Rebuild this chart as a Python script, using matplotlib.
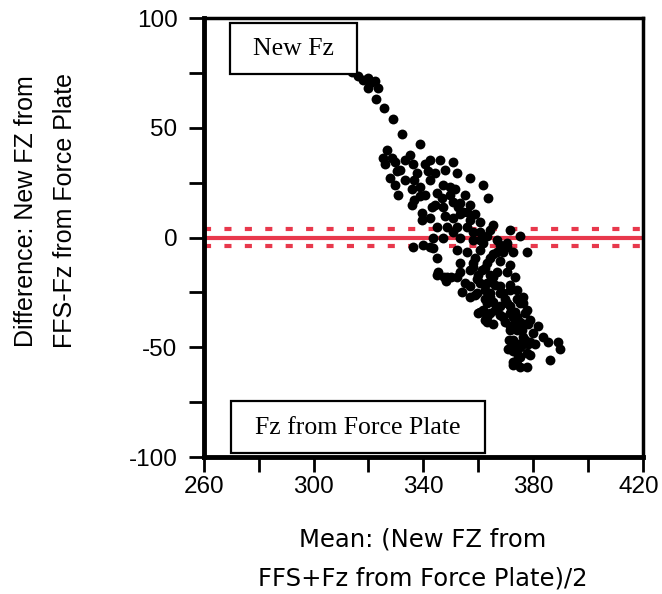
import matplotlib
matplotlib.use("Agg")
import matplotlib.pyplot as plt
import matplotlib.transforms as mtransforms
from matplotlib.patches import Rectangle

mean_vals = [
    313.9, 316.1, 317.9, 319.8, 320.5, 322.3, 319.8, 323.4, 322.7, 325.6, 328.9, 332.2,
    326.7, 338.7, 326.0, 329.6, 328.5, 327.8, 330.3, 330.7, 335.1, 336.2, 337.6, 335.8,
    338.7, 338.7, 341.6, 342.4, 344.2, 346.0, 350.7, 352.2, 347.1, 349.7, 356.9, 361.7,
    363.5, 335.8, 339.4, 339.4, 343.1, 346.7, 349.7, 352.6, 354.4, 347.1, 347.8, 350.7,
    356.9, 348.6, 352.2, 355.8, 358.0, 365.3, 371.5, 344.9, 353.3, 350.7, 355.8, 344.9,
    350.7, 360.6, 363.1, 343.5, 347.1, 353.3, 358.0, 366.8, 370.4, 375.2,
    336.2, 339.8, 342.4, 343.5, 344.9, 352.2, 355.8, 360.6, 365.3, 369.0, 372.6, 377.7,
    370.4, 366.8, 361.7, 353.3, 358.0, 363.1, 358.0, 345.3, 347.5, 350.0, 353.3, 348.4,
    354.0, 359.5, 361.3, 363.1, 365.3, 370.4, 366.8, 367.9, 371.5, 371.5, 359.5, 364.2,
    367.9, 374.1, 376.3, 356.9, 360.6, 358.7, 364.2, 369.0, 374.1, 376.3, 363.1, 370.4,
    365.3, 361.7, 367.9, 371.5, 375.2, 377.7, 359.9, 360.6, 364.2, 371.5, 373.3, 377.0,
    367.9, 372.6, 363.1, 369.0, 374.1, 378.8, 362.3, 375.2, 363.1, 365.3, 371.5, 372.6,
    381.7, 371.5, 372.6, 376.3, 378.8, 383.5, 385.4, 389.0, 389.7, 386.1, 372.6, 374.1,
    375.2, 377.7, 374.1, 372.6, 372.6, 375.2, 377.7, 376.3, 374.5, 375.9,
    344.9, 348.6, 352.2, 371.1, 370.8, 378.8, 380.6, 377.0, 379.9, 369.7,
    362.4, 364.2, 359.9, 366.1, 362.4, 356.9, 355.1, 356.9, 358.7, 364.2, 367.9, 371.5,
    373.3, 373.3, 376.9, 375.2, 372.2, 378.1, 374.1, 378.1, 369.7, 366.1, 362.4,
    325.2, 331.4, 333.2, 329.6, 333.2, 340.5, 336.7, 340.5, 342.4, 347.8, 351.5, 355.1,
    356.9, 358.7, 360.6, 353.3, 364.2, 360.6, 367.9, 336.7, 342.4, 344.2,
]
diff_vals = [
    75.2, 73.8, 72.0, 72.9, 70.6, 71.1, 68.3, 68.3, 63.3, 58.8, 54.2, 47.4,
    40.1, 42.4, 33.3, 34.6, 36.4, 27.3, 30.1, 19.6, 37.8, 33.3, 29.6, 21.9,
    23.2, 18.7, 30.1, 26.4, 29.6, 35.5, 34.2, 29.6, 24.1, 23.2, 27.3, 24.1,
    18.2, 15.0, 11.4, 8.2, 13.7, 18.2, 19.6, 14.1, 11.8, 14.1, 9.6, 9.1,
    8.2, 5.0, 5.0, 4.6, 2.3, 5.9, 3.6, 20.5, 15.9, 16.4, 11.8, 4.6,
    2.3, 2.7, 0.5, 0.0, 0.0, 0.0, -0.9, -0.9, -2.3, 0.5,
    -4.1, -3.2, -4.1, -4.6, -9.1, -5.5, -6.8, -5.5, -7.7, -6.8, -6.8, -6.8,
    -4.1, -6.8, -2.3, -11.4, -11.4, -11.4, -13.2, -15.9, -17.8, -18.2, -15.9, -20.0,
    -24.6, -19.1, -14.6, -20.5, -17.8, -15.9, -15.9, -22.3, -21.4, -23.7, -25.1, -25.1,
    -25.1, -23.7, -26.9, -22.3, -20.5, -26.0, -26.9, -25.1, -28.2, -29.6, -29.6, -29.6,
    -29.2, -32.8, -31.4, -31.4, -29.6, -32.8, -34.2, -33.7, -34.2, -34.2, -33.7, -34.2,
    -35.1, -36.0, -36.0, -36.0, -36.0, -37.4, -37.4, -38.7, -38.3, -39.6, -40.5, -40.5,
    -40.5, -41.9, -46.5, -45.1, -47.8, -45.1, -47.8, -47.8, -51.0, -55.6, -51.9, -52.4,
    -54.2, -52.4, -55.6, -56.9, -57.9, -59.2, -58.8, -48.7, -48.7, -41.9,
    -16.9, -17.8, -17.8, -46.5, -51.0, -53.3, -48.7, -39.6, -43.3, -38.3,
    -13.7, -16.9, -16.9, -21.4, -23.7, -27.3, -20.5, -14.6, -9.1, -9.1, -10.9, -12.3,
    -18.2, -38.3, -46.5, -49.7, -48.7, -48.7, -41.9, -39.6, -28.2, -32.8, -28.2,
    36.4, 31.0, 26.4, 24.1, 35.5, 33.3, 26.4, 19.6, 35.5, 31.0, 21.9, 19.6,
    15.0, 10.5, 7.3, 10.5, 3.6, -0.9, -3.2, 17.3, 9.1, 15.0,
]

mean_line = 0.0
upper_limit = 4.0
lower_limit = -4.0

x_ticks_all = [260, 280, 300, 320, 340, 360, 380, 400, 420]
x_ticks_labeled = [260, 300, 340, 380, 420]
y_ticks_all = [-100, -75, -50, -25, 0, 25, 50, 75, 100]
y_ticks_labeled = [-100, -50, 0, 50, 100]

box_top_text = "New Fz"
box_bottom_text = "Fz from Force Plate"
x_label = "Mean: (New FZ from\nFFS+Fz from Force Plate)/2"
y_label = "Difference: New FZ from\nFFS-Fz from Force Plate"

plt.rcParams['font.family'] = ['Liberation Sans', 'DejaVu Sans']

fig = plt.figure(figsize=(6.62, 5.94), dpi=100)
ax = fig.add_axes([0.308, 0.2306, 0.663, 0.739])

red = '#e8384c'
ax.axhline(mean_line, color=red, lw=3, zorder=2)
for lim in (upper_limit, lower_limit):
    ax.axhline(lim, color=red, lw=3, linestyle=(0, (1.7, 3.2)), zorder=2)

ax.plot(mean_vals, diff_vals, 'o', color='black', markersize=7.1, markeredgewidth=0, zorder=3)

ax.set_xlim(260, 420)
ax.set_ylim(-100, 100)
ax.set_xticks(x_ticks_all)
ax.set_xticklabels([str(v) if v in x_ticks_labeled else '' for v in x_ticks_all])
ax.set_yticks(y_ticks_all)
ax.set_yticklabels([str(v) if v in y_ticks_labeled else '' for v in y_ticks_all])
ax.tick_params(axis='both', direction='out', length=11, width=2, labelsize=17.5, colors='black')
ax.tick_params(axis='x', pad=3)
ax.tick_params(axis='y', pad=8)

# nudge the last x tick label so it stays inside the figure
last = ax.get_xticklabels()[-1]
last.set_transform(last.get_transform() +
                   mtransforms.ScaledTranslation(-4 / 100, 0, fig.dpi_scale_trans))

for s in ax.spines.values():
    s.set_linewidth(2.5)
    s.set_color('black')
ax.spines['left'].set_linewidth(3.5)
ax.spines['bottom'].set_linewidth(3.5)

# annotation boxes
r1 = Rectangle((0.059, 0.872), 0.290, 0.117, transform=ax.transAxes,
               facecolor='white', edgecolor='black', lw=1.6, zorder=5)
ax.add_patch(r1)
ax.text(0.204, 0.930, box_top_text, transform=ax.transAxes, ha='center', va='center',
        fontsize=18.5, family='Liberation Serif', zorder=6)
r2 = Rectangle((0.061, 0.009), 0.579, 0.119, transform=ax.transAxes,
               facecolor='white', edgecolor='black', lw=1.6, zorder=5)
ax.add_patch(r2)
ax.text(0.350, 0.066, box_bottom_text, transform=ax.transAxes, ha='center', va='center',
        fontsize=18.5, family='Liberation Serif', zorder=6)

fig.text(0.0687, 0.645, y_label, rotation=90, ha='center', va='center', fontsize=18,
         linespacing=1.75)
fig.text(0.638, 0.059, x_label, ha='center', va='center', fontsize=17.5,
         family=['DejaVu Sans'], linespacing=1.75)

fig.savefig('out.png', dpi=100)
